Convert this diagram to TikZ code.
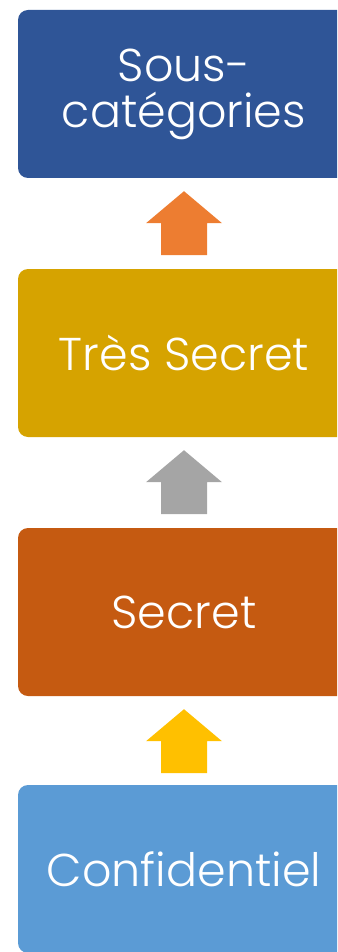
\documentclass[tikz,border=0pt]{standalone}
\usepackage{fontspec}
\IfFontExistsTF{Poppins Light}{\setmainfont{Poppins Light}}{\setmainfont{Poppins}}
\usepackage{tikz}
\usetikzlibrary{calc}

\definecolor{sousblue}{HTML}{2F5597}
\definecolor{tresgold}{HTML}{D6A300}
\definecolor{secretrust}{HTML}{C55A11}
\definecolor{confblue}{HTML}{5B9BD5}
\definecolor{arroworange}{HTML}{ED7D31}
\definecolor{arrowgray}{HTML}{A5A5A5}
\definecolor{arrowyellow}{HTML}{FFC000}

\begin{document}
\begin{tikzpicture}[%
      x=1pt, y=-1pt,
      levelbox/.style={rectangle, rounded corners=10pt, minimum width=332pt,
        minimum height=168pt, text=white, align=center,
        font=\fontsize{46}{46}\selectfont},
      ]
      \useasboundingbox (0,0) rectangle (337,952);
      \clip (0,0) rectangle (337,952);

      % levels
      \node [levelbox, fill=sousblue] (sous) at (184,94) {Sous-\\catégories};
      \node [levelbox, fill=tresgold] (tres) at (184,353) {Très Secret};
      \node [levelbox, fill=secretrust] (secret) at (184,612) {Secret};
      \node [levelbox, fill=confblue] (conf) at (184,869) {Confidentiel};

      % up arrows between levels
      \coordinate (tipa) at ($(sous.south)+(0,13)$);
      \coordinate (tipb) at ($(tres.south)+(0,13)$);
      \coordinate (tipc) at ($(secret.south)+(0,13)$);
      \fill [color=arroworange] (tipa) -- ++(38,32) -- ++(-15,0) -- ++(0,32)
            -- ++(-46,0) -- ++(0,-32) -- ++(-15,0) -- cycle;
      \fill [color=arrowgray] (tipb) -- ++(38,32) -- ++(-15,0) -- ++(0,32)
            -- ++(-46,0) -- ++(0,-32) -- ++(-15,0) -- cycle;
      \fill [color=arrowyellow] (tipc) -- ++(38,32) -- ++(-15,0) -- ++(0,32)
            -- ++(-46,0) -- ++(0,-32) -- ++(-15,0) -- cycle;
\end{tikzpicture}
\end{document}
